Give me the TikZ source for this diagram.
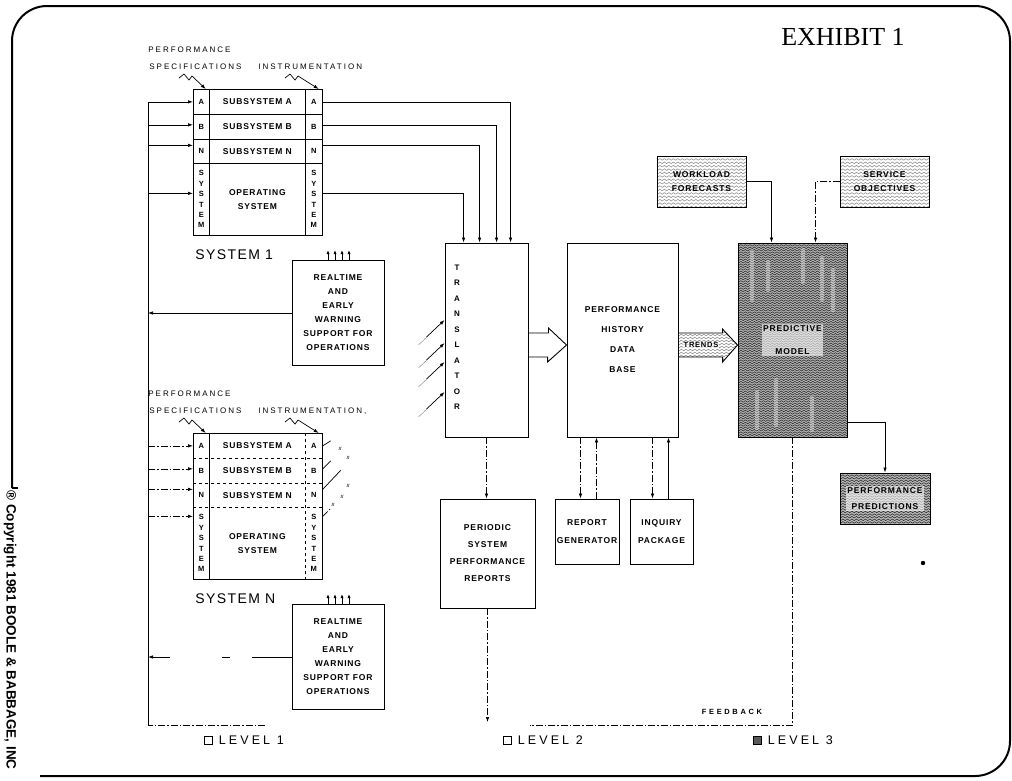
\documentclass[tikz,border=0pt]{standalone}
\usepackage{fontspec}
\setmainfont{Liberation Serif}
\setsansfont{Liberation Sans}
\newfontfamily\spfont[LetterSpace=10]{Liberation Sans}
\newfontfamily\widefont[LetterSpace=25]{Liberation Sans}
\newfontfamily\sysfont[LetterSpace=10]{Liberation Sans}
\newfontfamily\fbfont[LetterSpace=35]{Liberation Sans}
\usepackage{tikz}
\usetikzlibrary{arrows.meta,positioning,calc,decorations.pathmorphing}
\newcommand\boxfont{\spfont\bfseries\fontsize{8.5}{14}\selectfont}

\begin{document}
\begin{tikzpicture}[x=1pt, y=-1pt, line width=0.7pt,
    arr/.style={-{Latex[length=5pt, width=3.5pt]}},
    tinyarr/.style={-{Latex[length=4pt, width=3.2pt]}},
    dimline/.style={dash pattern=on 7pt off 2pt on 1.5pt off 2pt},
    rtdash/.style={dash pattern=on 40pt off 22pt on 8pt off 52pt on 30pt},
    box/.style={draw, line width=0.9pt, inner sep=0pt, align=center, font=\boxfont},
    cell/.style={anchor=north west, inner sep=0pt, align=center, font=\boxfont},
    sidecell/.style={cell, font=\sffamily\bfseries\fontsize{7.5}{10.4}\selectfont},
    lbl/.style={anchor=west, inner sep=0pt, font=\widefont\fontsize{8}{8}\selectfont},
    lvtext/.style={inner sep=0pt, font=\widefont\fontsize{12.5}{12.5}\selectfont},
    wtext/.style={fill=white, fill opacity=0.6, text opacity=1, inner sep=1.5pt,
                  align=center, font=\boxfont},
    xmark/.style={inner sep=0pt, font=\sffamily\itshape\fontsize{6}{6}\selectfont},
    wave/.style n args={3}{fill=#1, path picture={
      \foreach \k in {0,#3,...,200}{
        \draw[#2, line width=0.55pt, decorate,
          decoration={snake, amplitude=0.8pt, segment length=4.5pt}]
          ([xshift=-3pt, yshift=-\k pt]path picture bounding box.north west) --
          ([xshift=3pt, yshift=-\k pt]path picture bounding box.north east);}}}]
  \useasboundingbox (0,0) rectangle (1012,780);
  % the frame, title and copyright
  \draw[line width=2pt, rounded corners=35pt] (12,488) -- (12,6) -- (1010,6)
    -- (1010,776) -- (40,776);
  \draw[line width=2pt] (12,488) -- (18,488);
  \node[font=\fontsize{26}{26}\selectfont] (title) at (843,37) {EXHIBIT 1};
  \node[rotate=-90, anchor=west, inner sep=0pt,
    font=\sffamily\bfseries\fontsize{13.5}{13.5}\selectfont] (copy) at (10,490)
    {® Copyright 1981 BOOLE \& BABBAGE, INC};
  \coordinate (bus) at (148,725);
  % level 1: the two systems with their instrumentation
  \foreach \sy/\ty/\nm/\ins/\ls/\il/\rtl/\osy in {
      s1/89/SYSTEM 1/INSTRUMENTATION/solid/solid/solid/6,
      sn/433/SYSTEM N/{INSTRUMENTATION,}/dashed/dimline/rtdash/27}{
    \node[lbl] (\sy-perf) at (148,\ty-39) {PERFORMANCE};
    \node[lbl] (\sy-spec) at (149,\ty-22) {SPECIFICATIONS};
    \node[lbl] (\sy-inst) at (258,\ty-22) {\ins};
    \foreach \row/\dy/\hh/\sd/\mtext in {a/0/25/A/SUBSYSTEM A, b/25/25/B/SUBSYSTEM B,
        n/50/24/N/SUBSYSTEM N, os/74/72/{S\\Y\\S\\T\\E\\M}/{OPERATING\\SYSTEM}}{
      \node[sidecell, minimum width=16pt, minimum height=\hh pt] (\sy-l-\row)
        at (193,\ty+\dy) {\sd};
      \node[cell, minimum width=96pt, minimum height=\hh pt] (\sy-m-\row)
        at (209,\ty+\dy) {\mtext};
      \node[sidecell, minimum width=17pt, minimum height=\hh pt] (\sy-r-\row)
        at (305,\ty+\dy) {\sd};}
    \draw[line width=0.9pt] (\sy-l-a.north west) rectangle (\sy-r-os.south east);
    \draw (\sy-l-a.north east) -- (\sy-l-os.south east);
    \draw[\ls] (\sy-r-a.north west) -- (\sy-r-os.south west);
    \foreach \row in {b,n,os}
      \draw[\ls] (\sy-l-\row.north west) -- (\sy-r-\row.north east);
    \draw[arr] (179,\ty-11) -- (184,\ty-15) -- (189,\ty-9) -- (192,\ty-13)
      -- ([xshift=-4pt]\sy-l-a.north east);
    \draw[arr] (285,\ty-11) -- (290,\ty-15) -- (295,\ty-9) -- (298,\ty-13)
      -- ([xshift=-4pt]\sy-r-a.north east);
    \foreach \row/\sh in {a/0,b/2,n/6,os/\osy}{
      \coordinate (\sy-in-\row) at ([yshift=\sh pt]\sy-l-\row.west);
      \coordinate (\sy-out-\row) at ([yshift=\sh pt]\sy-r-\row.east);
      \draw[arr, \il] (\sy-in-\row -| bus) -- (\sy-in-\row);}
    \node[anchor=west, inner sep=0pt, font=\sysfont\fontsize{14}{14}\selectfont]
      (\sy-name) at (195,\ty+166) {\nm};
    \node[box, minimum width=92pt, minimum height=105pt] (\sy-rt) at (338,\ty+224)
      {REALTIME\\AND\\EARLY\\WARNING\\SUPPORT FOR\\OPERATIONS};
    \foreach \dx in {-10,-3,4,11}
      \draw[tinyarr, line width=0.8pt] ([xshift=\dx pt]\sy-rt.north) -- ++(0,-10);
    \draw[arr, \rtl] (\sy-rt.west) -- (\sy-rt.west -| bus);
  }
  \draw[dimline] (265,725) -- (bus);
  \draw (bus) -- (bus |- s1-in-a);
  % system n: broken links
  \draw (sn-out-a) -- ++(8,-5);
  \draw (sn-out-b) -- ++(8,-8);
  \draw (sn-out-n) -- ++(18,-19);
  \draw[dimline] (sn-out-os) -- ++(8,-8);
  \foreach \x/\y [count=\i] in {340/449, 348/458, 348/486, 342/497, 333/505}
    \node[xmark] (xm-\i) at (\x,\y) {x};
  % level 2: translator and data base
  \node[box, minimum width=83pt, minimum height=194pt] (tr) at (486.5,340) {};
  \node[inner sep=0pt, align=center,
    font=\sffamily\bfseries\fontsize{8}{15.5}\selectfont] (tr-txt) at (457,337)
    {T\\R\\A\\N\\S\\L\\A\\T\\O\\R};
  \foreach \row/\dx in {a/66, b/52, n/35, os/19}{
    \coordinate (tr-\row) at ([xshift=\dx pt]tr.north west);
    \draw[arr] (s1-out-\row) -| (tr-\row);}
  \foreach \dy in {20,-3,-22,-52}{
    \coordinate (tr-in) at ([yshift=\dy pt]tr.west);
    \draw[arr] ($(tr-in)+(-18,17)$) -- (tr-in);
    \draw[densely dotted, line width=0.5pt] ($(tr-in)+(-18,17)$) -- ++(-8,8);}
  \node[box, minimum width=111pt, minimum height=194pt,
    font=\spfont\bfseries\fontsize{8.5}{20}\selectfont] (db) at (622.5,340)
    {PERFORMANCE\\HISTORY\\DATA\\BASE};
  \draw[line width=0.9pt] ([yshift=7pt]tr.east) -- ++(20,0) -- ++(0,-5)
    -- ([yshift=-5pt]db.west) -- ++(-19,17) -- ++(0,-5) -- ([yshift=-17pt]tr.east);
  \node[box, minimum width=95pt, minimum height=109pt,
    font=\spfont\bfseries\fontsize{8.5}{17}\selectfont] (pr) at (487.5,553.5)
    {PERIODIC\\SYSTEM\\PERFORMANCE\\REPORTS};
  \node[box, minimum width=64pt, minimum height=65pt,
    font=\spfont\bfseries\fontsize{8.5}{18}\selectfont] (rg) at (587,531.5)
    {REPORT\\GENERATOR};
  \node[box, minimum width=63pt, minimum height=65pt,
    font=\spfont\bfseries\fontsize{8.5}{18}\selectfont] (ip) at (661.5,531.5)
    {INQUIRY\\PACKAGE};
  \draw[arr, dimline] (tr.south) -- (tr.south |- pr.north);
  \coordinate (rep-out) at (487.5,722);
  \draw[arr, dimline] (pr.south) -- (rep-out);
  \coordinate (rg-dn) at ([xshift=-42pt]db.south);
  \coordinate (rg-up) at ([xshift=-26pt]db.south);
  \coordinate (ip-dn) at ([xshift=30pt]db.south);
  \coordinate (ip-up) at ([xshift=46pt]db.south);
  \draw[arr, dimline] (rg-dn) -- (rg-dn |- rg.north);
  \draw[arr, dimline] (rg-up |- rg.north) -- (rg-up);
  \draw[arr, dimline] (ip-dn) -- (ip-dn |- ip.north);
  \draw[arr] (ip-up |- ip.north) -- (ip-up);
  % level 3: the predictive model
  \node[box, wave={black!30}{black!85}{2.4}, minimum width=109pt,
    minimum height=194pt] (model) at (792.5,340) {};
  \foreach \x/\a/\b in {752/252/300, 768/262/290, 803/250/282, 822/258/300,
                        833/270/310, 757/392/428, 776/380/425, 812/398/430}
    \draw[white, line width=4.5pt, opacity=0.35, line cap=round] (\x,\a) -- (\x,\b);
  \node[wtext, font=\spfont\bfseries\fontsize{8.5}{23}\selectfont] (model-txt)
    at (model) {PREDICTIVE\\MODEL};
  \node[box, wave={white}{black!45}{3.4}, minimum width=89pt, minimum height=51pt]
    (wl) at (701.5,181.5) {WORKLOAD\\FORECASTS};
  \node[box, wave={white}{black!45}{3.4}, minimum width=89pt, minimum height=51pt]
    (so) at (884.5,181.5) {SERVICE\\OBJECTIVES};
  \node[box, wave={black!28}{black!85}{2.6}, minimum width=90pt, minimum height=51pt]
    (pp) at (885,498.5) {};
  \node[wtext, font=\spfont\bfseries\fontsize{8.5}{16}\selectfont] (pp-txt) at (pp)
    {PERFORMANCE\\PREDICTIONS};
  \draw[wave={white}{black!45}{3}, line width=0.9pt] ([yshift=7pt]db.east)
    -- ++(44,0) -- ++(0,-4) -- ([yshift=-5pt]model.west) -- ++(-15,17)
    -- ++(0,-5) -- ([yshift=-17pt]db.east) -- cycle;
  \node[wtext, inner sep=0.5pt, font=\spfont\bfseries\fontsize{7.5}{7.5}\selectfont]
    (trends) at (701,345) {TRENDS};
  \draw[arr] (wl.east) -| ([xshift=-21pt]model.north);
  \draw[arr, dimline] (so.west) -| ([xshift=23pt]model.north);
  \draw[arr] ([yshift=15pt]model.south east) -| (pp.north);
  \coordinate (fb-end) at (530,725);
  \draw[dimline] (model.south) |- (fb-end);
  \node[inner sep=0pt, font=\fbfont\bfseries\fontsize{7.5}{7.5}\selectfont]
    (fb-txt) at (732,712) {FEEDBACK};
  \fill (923,563) circle (2.2);
  % the levels
  \node[draw, line width=0.8pt, minimum size=8pt, inner sep=0pt] (lv1) at (208,740) {};
  \node[lvtext, right=6pt of lv1] (lv1-txt) {LEVEL 1};
  \node[draw, line width=0.8pt, minimum size=8pt, inner sep=0pt] (lv2) at (507,740) {};
  \node[lvtext, right=6pt of lv2] (lv2-txt) {LEVEL 2};
  \node[draw, fill=black!65, line width=0.8pt, minimum size=8pt, inner sep=0pt]
    (lv3) at (757,740) {};
  \node[lvtext, right=6pt of lv3] (lv3-txt) {LEVEL 3};
\end{tikzpicture}
\end{document}
